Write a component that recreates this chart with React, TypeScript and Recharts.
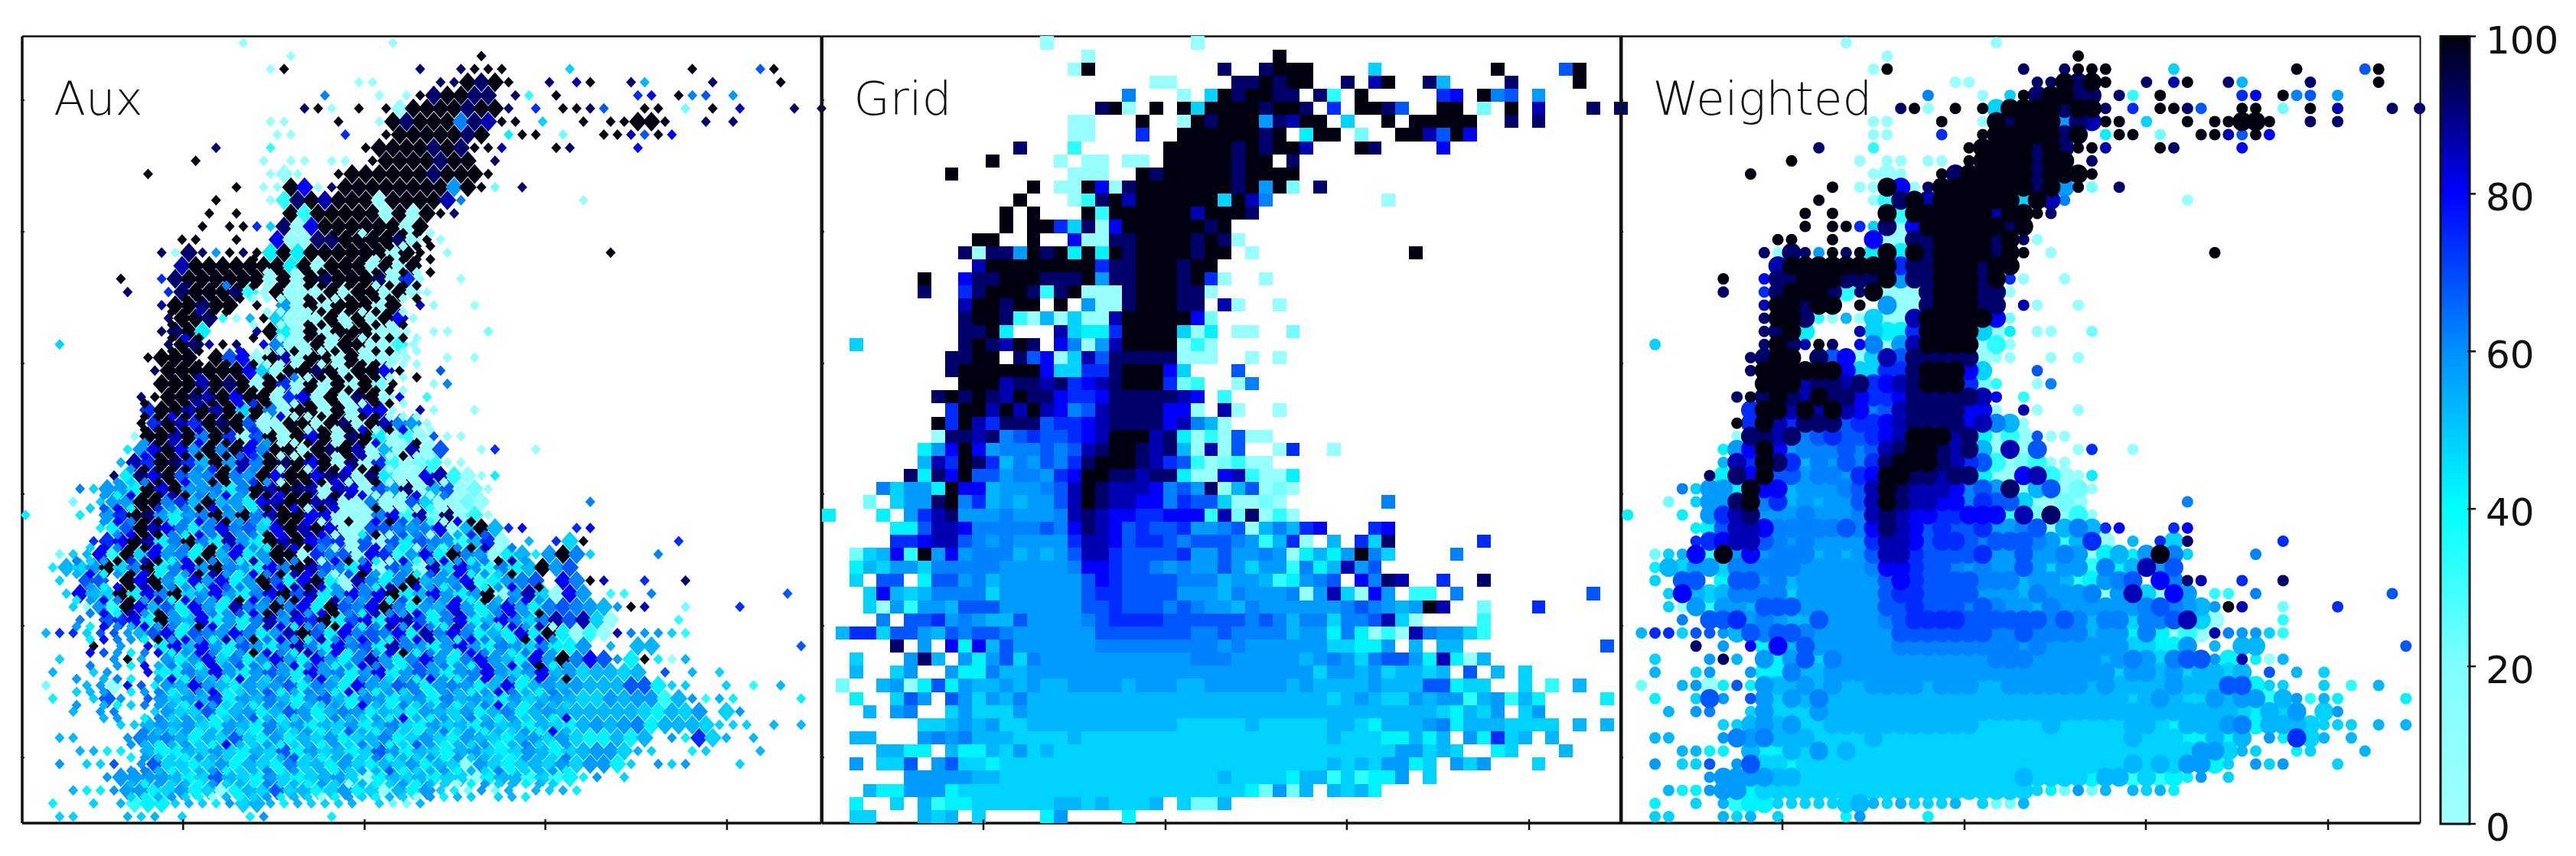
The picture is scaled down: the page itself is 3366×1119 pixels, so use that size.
import { BarChart, Bar, ScatterChart, Scatter, XAxis, YAxis } from "recharts";

// one letter per grid cell, "." is an empty cell, spaces only help counting
const levelChars = "abcdefghijklmn";
const levelValues = [5, 22, 33, 42, 48, 53, 58, 62, 68, 74, 80, 86, 92, 100];

const colorStops = [0, 20, 40, 50, 60, 70, 80, 90, 100];
const colorHex = ["#a0ffff", "#80ffff", "#00ffff", "#00c8ff", "#0090ff", "#0048ff", "#0000ff", "#000080", "#000010"];

const xTicks = [11.83, 25.17, 38.45, 51.8];
const yTicks = [4.87, 14.9, 24.95, 34.9, 44.95, 55];
const barTicks = [0, 20, 40, 60, 80, 100];

const gridRows = [
  ".......... ......a... .......a.. .......... .......... .........",
  ".......... .........a .......... ...n...... .......... .........",
  ".......... ........an .........m ..mnnn.... e........n ....in...",
  ".......... .......... ....aa.... mmnmnn..m. ln..mf.... m....n...",
  ".......... .......... ..h...a.en mnnmm.mc.n .....jk.nh i.g......",
  ".......... .......... mna.n.nenn nnmnnm.j.n nmi..nn.b. n.l...m.m",
  ".......... ........aa ...n..anmn nngmlnn.e. .n.nnnnn.. m.m......",
  ".......... ........aa ...j..nnnn nnmn.dnn.b ..nnlink.. .........",
  ".......... ....m...c. .....nnnnn mnmnnl...n m....k.... .........",
  ".......... ..n....a.a a.aa.nnnnn mnn.m..... .......... .........",
  ".........n ........aa a..nmnnnnn mnnnn..... .......... .........",
  ".......... .....n.aan kamnnnnnnn mngnb.m... .......... .........",
  ".......... ....n...ac mnlnnnnnne nlh....... .a........ .........",
  ".......... ...n.n...n cnnnnnnlnn nm........ .......... .........",
  ".......... ...n.nnjem aknnnnnnmn .......... .......... .........",
  ".......... .nn..n..ka ammnnnnmnm a......... .......... .........",
  ".......... mammgnmndn dnmnnnnmnn .a........ ...n...... .........",
  ".......... .lnnnnnnnn jmmnnnmnn. .......... .......... .........",
  ".......n.. kmmnnnmmmn gmmnnnmnja ..a....... .......... .........",
  ".......m.. jmnnnmcmna aamnnnmma. .......... .......... .........",
  ".......... lnnmnn.n.g aamnnnmm.l a..a...... .......... .........",
  ".......... mnnmcafaea alnnnnnkb. .......... .......... .........",
  ".......... mmnd...led djnnnnead. aa..b..... .......... .........",
  "..e....... mnmlnm.kha glnnnnaca. .......... .......... .........",
  ".........m mnn.mikael immmmmaaa. .a.a...... .......... .........",
  ".........m nnnnnnkeej jmnnnke... i......... .......... .........",
  ".......... nnnlmmlmjk lmnnnjbc.. ah........ .......... .........",
  "........mn mnmlnmmkjj kmmmmmlk.c .......... .......... .........",
  ".........j nnlnlnlkhi lmmmmkka.l a..a...... .......... .........",
  "........nj nljmmmijjk lmmmmklhfa .......... .......... .........",
  "........am mlmhijiijk lnnnlmdaca iaa....... .......... .........",
  ".......dgk nkghhhihil mnnmlmfala i..aj..a.. .......... .........",
  ".......flj nmjfhgihjm nnnmljicab caa....... .......... .........",
  "......mdmk niighhgjkn nmmlmmdaak lcaad..... .......... .........",
  "....heggdn kkfggghiln mlllkhigma fiaba..... .......... .........",
  "...b.eggmn hjfgfggiln mllkkhjiie aaba...... .h........ .........",
  "d...d.gjlm ggghggghlm lkkjjkkkcl bmaca..... .......... .........",
  ".....ddill khhhhhihkm lkijiijggh iafhfjk... jk........ .........",
  ".....jjkll ihghggggjl lkijjihiii hgcfja.f.j em......j. .........",
  "..befkcngk ghhhfgfgil ljiiiijggi gghgadfdgn he....h... .........",
  "..dfeggehh hhhggggghk kjiihghggi geggchdflg i......... .........",
  "..e.ii.dii ghfggggggi kjiiiihhhf ggfcdghi.k hml..j..m. .........",
  "...ekfefhh hheggggggi jjiiiigggf hggghaglea kg.cc.h... ......i..",
  "...eagcggf iiiggggggi ijiiihihgg fhgggggghi hgfgnl..b. ..j......",
  "....h.iijg hgffiggggh ijjjjiiiii ihihfhhehh ilea....c. .........",
  ".fjjeiigfi hiihgggggg iiiiiiihhi hhhhfggdhd acalhggec. .........",
  ".....m.g.k dkfigggggg hhhhhhhhhg hggggggeed dg.f.ff... .......i.",
  "..e...gmf. gdgiehgggg ggggggghhh gggggfghge hiigdldaf. .........",
  "..f..eg..g ddhffggggg gggggggggg ggggggeggf geffef.i.f .e.......",
  ".b..fgadid gffgfgffgg ggfgggffgg ggggfgffff gfffiidee. .e.c.f...",
  "..d..eig.i gegfhfffff ffffffffff fffffffefg feegfggcfg cfd....d.",
  "...f.gh..e geeegfffff ffffffffff ffffffffff fffffedfeg .eg......",
  ".......eef gfgeefffff ffffffeeee efeeeeeffe dfffghdfff eeee.f.f.",
  "..ff...ghg hfffeeeefe eeeeeeeeee eeeeeeefee eddfdf.gdj ef.f.....",
  "....ffdd.f ddfegefeee eeeeeeeeee eeeeeeeeee eeggefe..d e...f....",
  "..g.eei.gi eedeeeeeee eeeeeeeeee eeeeeeefef eggde.geg. ..e......",
  "......gggg gffeeeeeee eeeeeeeeef eeeedffcec ddg.e..... .........",
  "...fddgggd eeeeeeeeee eeeeeeeeee edbgbf.fef d......... .........",
  "..d..e.fcd deeeeeeffe feeef.ebbf .......... .......... .........",
  "..ee...fef .e....dg.. ..d....... .......... .......... .........",
];

const auxRows = [
  ".......... ......a... .......a.. .......... .......... .........",
  ".......... .........a .......... ...n...... .......... .........",
  ".......... ........an .........m ..mnnn.... e........n ....in...",
  ".......... .......... ....aa.... mmnmnn..m. ln..mf.... m....n...",
  ".......... .......... ..h...a.an mnnmm.mc.n .....jk.nh i.g......",
  ".......... .......... mna.n.nann nnmnnm.j.n nmi..nn.b. n.l...m.m",
  ".......... ........aa ...n..anmn nnhmlnn.e. .n.nnnnn.. m.m......",
  ".......... ........aa ...j..nnnn nnmn.dnn.b ..nnlink.. .........",
  ".......... ....m...c. .....nnnnn mnmnnl...n m....k.... .........",
  ".......... ..n....a.a a.aa.nnnnn mnn.m..... .......... .........",
  ".........n ........aa a..nnnnnnn mnnnn..... .......... .........",
  ".......... .....n.aan kamnnnnnnn ngnnb.m... .......... .........",
  ".......... ....n...ac mnlnnnannn nlh....... .a........ .........",
  ".......... ...n.n...n cnnnnnanan nm........ .......... .........",
  ".......... ...n.nnjem aknnnnnnan .......... .......... .........",
  ".......... .nn..n..ka ammnnnnman a......... .......... .........",
  ".......... mammgnmndn dnnnnnnann .a........ ...n...... .........",
  ".......... .lnnnnnnnd nannnanan. .......... .......... .........",
  ".......n.. jmnnnnnnan anmnnnmaja ..a....... .......... .........",
  ".......m.. jmnnnmcana aanannanaa .......... .......... .........",
  ".......... lnnmnn.n.g anannnan.l a..a...... .......... .........",
  ".......... mnnmcafnea aanananka. .......... .......... .........",
  ".......... mmnd...lnd anannnaaa. aa..b..... .......... .........",
  "..e....... mnmlnm.kha anannaaca. .......... .......... .........",
  ".........n nnn.nikanl annanaaaa. .a.a...... .......... .........",
  ".........m nnnnnnkean nmnannkn.. i......... .......... .........",
  ".......... nnnlnmnanj anananbn.. ah........ .......... .........",
  "........mn nnmlnknnaj kanamnak.c .......... .......... .........",
  ".........j nnlnlnenha nnanakka.l a..a...... .......... .........",
  "........nj nljnmniaan nanmanlhga .......... .......... .........",
  "........an nlnhnjaina nknamndaca iaa....... .......... .........",
  ".......dgk nkgnhnkhnn anmnlafala i..aj..a.. .......... .........",
  ".......flj nmjfnglhnm nknamajcab caa....... .......... .........",
  "......mdmk nighnhgnkn nkmlamdaak lcaad..... .......... .........",
  "....heggdn kngghdhnln mlalkaigma fiaba..... .......... .........",
  "...b.eggnn hjfnfgdkln nllaahaaie aaba...... .h........ .........",
  "d...d.gjnm gdghngnhln nkkaaahkcl bmaca..... .......... .........",
  ".....ddinl khdhkhiekn lnkaaiihgh kafnfjk... jk........ .........",
  ".....jjknl dhnhdlgdnl nkijaiaidi hgcfja.f.j en......j. .........",
  "..befkcnek ghdnfkdgnn ajhiakjcgk dnhgadfdgn he....h... .........",
  "..dfegnehn dhkgnhgdkh nlihdkaiga lekgchdfng i......... .........",
  "..e.ii.nkn gdkgkdgnid kndalhdhnf ggkcdghi.k hnl..j..m. .........",
  "...ekfendk hnegkgdhkn ildgkhkndf kgdgnaglea kg.cc.h... ......i..",
  "...eagcnkf idkgdlhgnh kdnihknhdg fkgdgkgdhi hgfgnl..b. ..j......",
  "....h.ijkd ngfkdgdhlg kjndikdkli dhkdfkhehl ilea....c. .........",
  ".fjjeiigfi kdihgkhdgl nidkhihkdl hkhdfdkdnd acalhggec. .........",
  ".....n.g.k dkfkgdigdg lhdkhidlhg dgkgdhgehd dg.f.ff... .......i.",
  "..e...gnf. gdgkehdgkg dkgdhlgdhk gdhkgfdkgn hkigdndaf. .........",
  "..f..eg..k ddhfkgdgig dkghdgkdgi gdghkgegkf geffef.i.f .e.......",
  ".b..fgakid gfkgfdgfgi dhgdkgfihd ghgdfkdfgf gfffiidee. .e.c.f...",
  "..d..eig.i gegfjdgfhf dgifdhgdfg dhfgfdgefg feegfggcfg cfd....d.",
  "...f.gh..e geeidfgdfi gdfhgdfedg fegdfhdfgf fffffedfeg .eg......",
  ".......eef gfgedgfdhe gdfegdfhed gefdgefdfe dfgfghdfff eeee.f.f.",
  "..ff...ghg hfdfeiedgd fegdefhdeg edgfedfgeg eddfdf.gdj ef.f.....",
  "....ffdd.f ddfegedfei dgefdeigdf edfgedegfd efggefe..d e...f....",
  "..g.eei.gi eedegdfedh efdgedfegd feagedefeg eggde.geg. ..e......",
  "......gggg gfdeifedge defgeadfef deeadffcec ddg.e..... .........",
  "...fddgggd egdeadfeie fdegdeafdg edbgbf.fef d......... .........",
  "..d..e.fcd defedgeffd feeef.ebbf .......... .......... .........",
  "..ee...fef .e....dg.. ..d....... .......... .......... .........",
];

// smaller Aux marks between the cells above, rows start at AUX_FINE_FIRST_ROW
const AUX_FINE_FIRST_ROW = 14;
const auxFineRows = [
  ".......... .......... ..nnannnna ..........",
  ".......... .......... ...nnnnann ..........",
  ".......... ......n... ...nnannnn ..........",
  ".......... ..nnnnnana nnnnnnanan ..........",
  ".......... .mnnhnnana nnnnnannn. ..........",
  ".......... .nnnnnaaaa nnannnnan. ..........",
  ".......... nnlnn..aaa annnanna.. ..........",
  ".......... nn....a.aa nnnannan.. ..........",
  ".......... nkn...n.aa nnanannna. ..........",
  ".......... nnn..k.aan aannannaa. ..........",
  ".......... nnn.n.naaa naannnaaa. ..........",
  ".......... nnln.n.nnh annnnnaan. ..........",
  ".......... nnnn.nnnaa nannnnna.. ..........",
  "........n. nnlnnkjnaa nanaanna.. ..........",
  "........nn knnnnnnaka annannaaa. ..........",
  "........nn nnlnnnjaan anankankaa ..........",
  "........gn lnknnnkgaa nnannkaana ..........",
  "........kn nnnnnijnaa nnanlaanaa ..........",
  ".......gnn nnhjnlhnan annknnaaac ..........",
  "......gehn nkgnnhjgan nnkaanaaal a.........",
  ".....gdknn lnhgkgnnkn nanlkaaaka h.........",
  "....eikdnj ghnkhgdnnk ankaanaaac aa........",
  ".....gkhnn dhkhnghdnn kaanaknihc akn.......",
  "......hknn hdkhlghnkn lkaadnaiha .fji......",
  "....ekhnnk ghdnhkgdnk nhaaikhdag chnl.h....",
  "...hegnjln dknhgdlgnh naknhdakcg kgdhnlg...",
  "...fkdgnkd hgnlgdkhnl khaingdhdi gkdgen....",
  "....gdknln hgdkihgnkl nkgahdlnkg dhldgk.n..",
  "...dgkhngl dkhgdnkhgn kdlhgkdinh gkdnfhkg..",
  "....hkdlgn gdkhgiknhl gknhdlhgkd hlgdhkgn..",
  "...gdkhfkg hdnkgdhlkd ghnkdhlgkh dlghdkgla.",
  "....dkhgdn gkhdlgnhkg dlhgkidhkl gdkhgdnkg.",
  "....kigdhk dgkhdgnkhd lgkdhgkndh gdkhgdhkg.",
  "....h.gdkf hgdkgihdgk hgdgkhgdig hgdkgkhndg",
  "...g.fhd.g kdgfdkgehd gkfdhgegdk gdhkfgdkgn",
  "...efg.dgh dfgkdegidf hgdkfdgehd gfdgkhfdhg",
  "...g.fdehg fdkgefdhgd fegdkfdhef gdfhkfdgfe",
  ".....fg.dh egfdegifde gdhfegdkfd gehfdgefdk",
  "........hf egdfgedhfe gdeifdgedf hegdfegdkf",
  ".......gfd fgedkfegde fdgehfdeig dfegdfhedg",
  ".......dgf edgfedgefi edfgehdfeg dgefedgfeh",
  ".......ghf defgdefhdg efdegfidef gdfehdefgd",
  ".......fdg efdgefdhef dgeafdegdf eadgefdfe.",
  ".......edf gedafdegdf eadgedfeag dfe.efd...",
];

const INK = "#111";
const CELL_W = 17.84;
const CELL_H = 17.15;

const colorOf = (v: number) => {
  let i = 0;
  while (i < colorStops.length - 2 && v > colorStops[i + 1]) i++;
  const t = (v - colorStops[i]) / (colorStops[i + 1] - colorStops[i]);
  const a = colorHex[i];
  const b = colorHex[i + 1];
  const ch = (p: number) => {
    const x = parseInt(a.slice(p, p + 2), 16);
    const y = parseInt(b.slice(p, p + 2), 16);
    return Math.round(x + (y - x) * t);
  };
  return `rgb(${ch(1)},${ch(3)},${ch(5)})`;
};

const toPoints = (rows: string[], stagger = 0, offset = 0.5, firstRow = 0) => {
  const clean = rows.map((r) => r.replace(/ /g, ""));
  const filled = (r: number, c: number) => {
    const ch = clean[r]?.[c];
    return ch !== undefined && ch !== ".";
  };
  const out: { x: number; y: number; v: number; dense: boolean }[] = [];
  clean.forEach((row, r) => {
    row.split("").forEach((c, col) => {
      const idx = levelChars.indexOf(c);
      if (idx < 0) return;
      let around = 0;
      for (let dr = -1; dr <= 1; dr++) {
        for (let dc = -1; dc <= 1; dc++) {
          if ((dr || dc) && filled(r + dr, col + dc)) around++;
        }
      }
      out.push({
        x: col + offset + (r % 2 ? stagger : -stagger),
        y: r + firstRow + offset,
        v: levelValues[idx],
        dense: around >= 7,
      });
    });
  });
  return out;
};

const gridPoints = toPoints(gridRows);
const auxPoints = toPoints(auxRows, 0.25);
const auxFinePoints = toPoints(auxFineRows, 0, 1, AUX_FINE_FIRST_ROW);
const weightedPoints = [...gridPoints].sort((a, b) => a.v - b.v);

const CellMark = (p: any) => (
  <rect
    x={p.cx - CELL_W / 2}
    y={p.cy - CELL_H / 2}
    width={CELL_W}
    height={CELL_H}
    fill={colorOf(p.payload.v)}
    shapeRendering="crispEdges"
  />
);
const diamond = (p: any, w: number, h: number) => (
  <polygon
    points={`${p.cx - w},${p.cy} ${p.cx},${p.cy - h} ${p.cx + w},${p.cy} ${p.cx},${p.cy + h}`}
    fill={colorOf(p.payload.v)}
  />
);
const DiamondMark = (p: any) => (p.payload.dense ? diamond(p, 11.5, 13) : diamond(p, 6.5, 7));
const FineMark = (p: any) => diamond(p, 6.5, 7);
const DotMark = (p: any) => (
  <circle cx={p.cx} cy={p.cy} r={p.payload.dense ? 12.5 : 7.5} fill={colorOf(p.payload.v)} />
);

const XTick = (p: any) => <line x1={p.x} x2={p.x} y1={p.y - 7} y2={p.y + 7} stroke={INK} strokeWidth={2.5} />;
const LeftTick = (p: any) => <line x1={p.x} x2={p.x + 5} y1={p.y} y2={p.y} stroke={INK} strokeWidth={2} />;
const RightTick = (p: any) => <line x1={p.x - 5} x2={p.x} y1={p.y} y2={p.y} stroke={INK} strokeWidth={2} />;
const NoTick = () => <g />;

const BarTick = (p: any) => (
  <g>
    <line x1={p.x - 5} x2={p.x + 6} y1={p.y} y2={p.y} stroke={INK} strokeWidth={2.5} />
    <text x={p.x + 19} y={p.y + 22} fontFamily="DejaVu Sans" fontSize={50} fill={INK}>
      {p.payload.value}
    </text>
  </g>
);

const PANEL_W = 1044.5;
const PAD = 20;

const Panel = ({ left, label, labelX, data, shape, fineData, leftWidth, rightWidth }: any) => (
  <div style={{ position: "absolute", left: left - PAD, top: 0 }}>
    <ScatterChart
      width={PANEL_W + PAD * 2}
      height={1119}
      margin={{ left: PAD - 1, right: PAD - 1, top: 46.5, bottom: 42 }}
    >
      <XAxis
        type="number"
        dataKey="x"
        domain={[0, 58.55]}
        ticks={xTicks}
        interval={0}
        height={1}
        tick={XTick}
        tickLine={false}
        tickSize={0}
        axisLine={{ stroke: INK, strokeWidth: 3.5 }}
      />
      <XAxis
        xAxisId="top"
        orientation="top"
        type="number"
        domain={[0, 58.55]}
        height={1}
        tick={NoTick}
        tickLine={false}
        tickSize={0}
        axisLine={{ stroke: INK, strokeWidth: 2.5 }}
      />
      <YAxis
        type="number"
        dataKey="y"
        reversed
        domain={[0, 60]}
        ticks={yTicks}
        interval={0}
        width={1}
        tick={LeftTick}
        tickLine={false}
        tickSize={0}
        axisLine={{ stroke: INK, strokeWidth: leftWidth }}
      />
      <YAxis
        yAxisId="right"
        orientation="right"
        type="number"
        reversed
        domain={[0, 60]}
        ticks={yTicks}
        interval={0}
        width={1}
        tick={RightTick}
        tickLine={false}
        tickSize={0}
        axisLine={{ stroke: INK, strokeWidth: rightWidth }}
      />
      <Scatter data={data} shape={shape} isAnimationActive={false} />
      {fineData ? <Scatter data={fineData} shape={FineMark} isAnimationActive={false} /> : null}
      <text x={labelX - left + PAD} y={150} fontFamily="DejaVu Sans" fontWeight={200} fontSize={61} fill={INK}>
        {label}
      </text>
    </ScatterChart>
  </div>
);

export default function App() {
  return (
    <div style={{ position: "absolute", left: 0, top: 0, width: 3366, height: 1119, background: "#fff" }}>
      <Panel left={28.8} label="Aux" labelX={70} data={auxPoints} fineData={auxFinePoints} shape={DiamondMark} leftWidth={3.5} rightWidth={4} />
      <Panel left={1073.6} label="Grid" labelX={1115} data={gridPoints} shape={CellMark} leftWidth={4} rightWidth={4} />
      <Panel left={2118.4} label="Weighted" labelX={2160} data={weightedPoints} shape={DotMark} leftWidth={4} rightWidth={2} />
      <div style={{ position: "absolute", left: 3179, top: 0 }}>
        <BarChart
          width={187}
          height={1119}
          data={[{ name: "scale", v: 100 }]}
          margin={{ left: 10, right: 138, top: 47.5, bottom: 42 }}
          barCategoryGap={0}
        >
          <defs>
            <linearGradient id="cmap" x1="0" y1="1" x2="0" y2="0">
              {colorStops.map((s, i) => (
                <stop key={s} offset={`${s}%`} stopColor={colorHex[i]} />
              ))}
            </linearGradient>
          </defs>
          <XAxis dataKey="name" hide />
          <YAxis
            orientation="right"
            type="number"
            domain={[0, 100]}
            ticks={barTicks}
            interval={0}
            width={1}
            tick={BarTick}
            tickLine={false}
            tickSize={0}
            axisLine={false}
          />
          <Bar dataKey="v" fill="url(#cmap)" stroke={INK} strokeWidth={3} isAnimationActive={false} />
        </BarChart>
      </div>
    </div>
  );
}
